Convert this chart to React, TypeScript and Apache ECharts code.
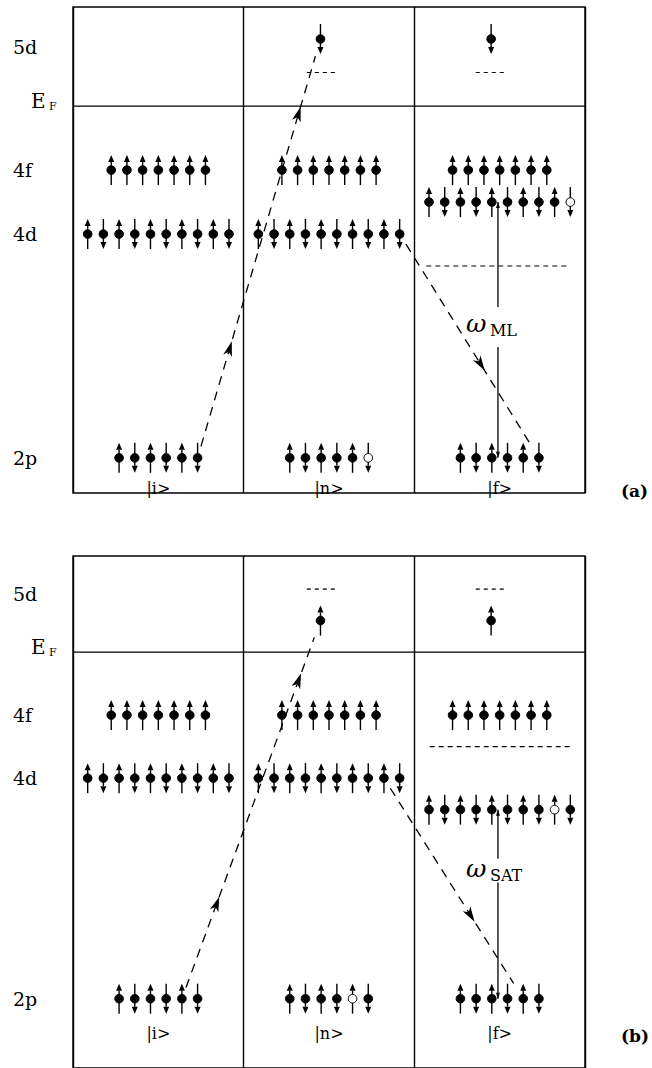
import React, { useEffect, useRef } from "react";
import * as echarts from "echarts";

// ---- diagram content -------------------------------------------------------

const panelTags = ["(a)", "(b)"];
const stateKets = ["|i>", "|n>", "|f>"];

// level names on the left and the energy each label sits at (E_F = 0)
const levelNames = ["5d", "E_F", "4f", "4d", "2p"];
const levelLabelEnergies = [1.85, 0, -2, -4, -11];
const fermiEnergy = 0;

// visible energy window of each panel [min, max]
const panelEnergyRange = [
  [-12.1, 3.1],
  [-13.2, 3.05],
];
const ketEnergies = [-11.95, -12.1];
const tagEnergies = [-12.05, -12.2];

// electron rows: [panel, column, energy, spins (u = up, d = down), hole slot (-1 = none)]
const electronRows: [number, number, number, string, number][] = [
  [0, 0, -2, "uuuuuuu", -1],
  [0, 0, -4, "ududududud", -1],
  [0, 0, -11, "ududud", -1],
  [0, 1, 2.1, "d", -1],
  [0, 1, -2, "uuuuuuu", -1],
  [0, 1, -4, "ududududud", -1],
  [0, 1, -11, "ududud", 5],
  [0, 2, 2.1, "d", -1],
  [0, 2, -2, "uuuuuuu", -1],
  [0, 2, -3, "ududududud", 9],
  [0, 2, -11, "ududud", -1],

  [1, 0, -2, "uuuuuuu", -1],
  [1, 0, -4, "ududududud", -1],
  [1, 0, -11, "ududud", -1],
  [1, 1, 1, "u", -1],
  [1, 1, -2, "uuuuuuu", -1],
  [1, 1, -4, "ududududud", -1],
  [1, 1, -11, "ududud", 4],
  [1, 2, 1, "u", -1],
  [1, 2, -2, "uuuuuuu", -1],
  [1, 2, -5, "ududududud", 8],
  [1, 2, -11, "ududud", -1],
];

// empty (dashed) levels: [panel, column, energy, from, to] (from/to = fraction of the column)
const emptyLevels: [number, number, number, number, number][] = [
  [0, 1, 1.05, 0.37, 0.54],
  [0, 2, 1.05, 0.36, 0.54],
  [0, 2, -5, 0.07, 0.91],
  [1, 1, 2, 0.37, 0.54],
  [1, 2, 2, 0.36, 0.54],
  [1, 2, -3, 0.09, 0.91],
];

// electron hops: [panel, fromColumn, fromEnergy, fromSlot, toColumn, toEnergy, toSlot]
const transitions: [number, number, number, number, number, number, number][] = [
  [0, 0, -11, 5, 1, 2.1, 0],
  [0, 1, -4, 9, 2, -11, 5],
  [1, 0, -11, 4, 1, 1, 0],
  [1, 1, -4, 8, 2, -11, 4],
];
// where along each hop the direction arrowheads sit
const transitionArrowAt = [[0.26, 0.82], [0.58], [0.25, 0.84], [0.62]];

// energy-loss arrows: [panel, x, topEnergy, bottomEnergy, gapTop, gapBottom, labelEnergy]
const lossArrows: [number, number, number, number, number, number, number][] = [
  [0, 2.49, -3, -11, -6.28, -7.53, -6.85],
  [1, 2.49, -5, -11, -6.56, -7.31, -6.92],
];
const lossSubscripts = ["ML", "SAT"];

// ---- layout / style ---------------------------------------------------------

const W = 652;
const H = 1068;
const GRID_LEFT = 73;
const GRID_WIDTH = 512;
const gridTops = [7, 556];
const gridHeights = [486, 520];

const SLOT = 0.092; // spacing between electrons (column units)
const LONE_SHIFT = -0.05; // single 5d electron sits a little left of centre
const STEM = 15;
const HEAD_LEN = 7;
const HEAD_W = 3;
const DOT_R = 4.3;
const TRIM_START = 12;
const TRIM_END = 18;
const SERIF = "'DejaVu Serif', 'Liberation Serif', serif";
const INK = "#000";

function slotX(panel: number, col: number, energy: number, slot: number) {
  const row = electronRows.find((r) => r[0] === panel && r[1] === col && r[2] === energy)!;
  const n = row[3].length;
  if (n === 1) return col + 0.5 + LONE_SHIFT;
  return col + 0.5 + (slot - (n - 1) / 2) * SLOT;
}

function electronData(panel: number) {
  const out: number[][] = [];
  electronRows
    .filter((r) => r[0] === panel)
    .forEach((r) => {
      const [, col, energy, spins, hole] = r;
      for (let i = 0; i < spins.length; i++) {
        out.push([slotX(panel, col, energy, i), energy, spins[i] === "u" ? 1 : -1, i === hole ? 1 : 0]);
      }
    });
  return out;
}

function renderElectron(_params: any, api: any) {
  const [cx, cy] = api.coord([api.value(0), api.value(1)]);
  const s = api.value(2) > 0 ? -1 : 1;
  const hole = api.value(3) > 0;
  const tipY = cy + s * STEM;
  const baseY = tipY - s * HEAD_LEN;
  return {
    type: "group",
    children: [
      {
        type: "line",
        shape: { x1: cx, y1: cy - s * STEM, x2: cx, y2: baseY },
        style: { stroke: INK, lineWidth: 1.4 },
      },
      {
        type: "polygon",
        shape: { points: [[cx, tipY], [cx - HEAD_W, baseY], [cx + HEAD_W, baseY]] },
        style: { fill: INK },
      },
      {
        type: "circle",
        shape: { cx, cy, r: DOT_R },
        style: { fill: hole ? "#fff" : INK, stroke: INK, lineWidth: 1 },
      },
    ],
  };
}

function dart(px: number, py: number, ux: number, uy: number) {
  const nx = -uy;
  const ny = ux;
  return {
    type: "polygon",
    shape: {
      points: [
        [px + ux * 8, py + uy * 8],
        [px - ux * 7 + nx * 4.5, py - uy * 7 + ny * 4.5],
        [px - ux * 3, py - uy * 3],
        [px - ux * 7 - nx * 4.5, py - uy * 7 - ny * 4.5],
      ],
    },
    style: { fill: INK },
  };
}

function buildSeries(panel: number) {
  const axes = { xAxisIndex: panel, yAxisIndex: panel, clip: false, silent: true };

  const hops = transitions
    .map((t, i) => ({ t, arrows: transitionArrowAt[i] }))
    .filter((h) => h.t[0] === panel);
  const losses = lossArrows
    .map((l, i) => ({ l, sub: lossSubscripts[i] }))
    .filter((o) => o.l[0] === panel);

  return [
    // Fermi level and the empty dashed levels
    {
      type: "custom",
      ...axes,
      data: [
        [0, 3, fermiEnergy, 0],
        ...emptyLevels.filter((d) => d[0] === panel).map((d) => [d[1] + d[3], d[1] + d[4], d[2], 1]),
      ],
      renderItem: (_p: any, api: any) => {
        const a = api.coord([api.value(0), api.value(2)]);
        const b = api.coord([api.value(1), api.value(2)]);
        const dashed = api.value(3) > 0;
        const short = b[0] - a[0] < 60;
        return {
          type: "line",
          shape: { x1: a[0], y1: a[1], x2: b[0], y2: b[1] },
          style: {
            stroke: INK,
            lineWidth: dashed ? 1.1 : 1.4,
            lineDash: dashed ? (short ? [4, 4] : [5, 4]) : null,
          },
        };
      },
    },
    // electrons
    {
      type: "custom",
      ...axes,
      data: electronData(panel),
      renderItem: renderElectron,
    },
    // electron hops (dashed, with direction darts)
    {
      type: "custom",
      ...axes,
      data: hops.map(({ t }) => [
        slotX(panel, t[1], t[2], t[3]),
        t[2],
        slotX(panel, t[4], t[5], t[6]),
        t[5],
      ]),
      renderItem: (params: any, api: any) => {
        const a = api.coord([api.value(0), api.value(1)]);
        const b = api.coord([api.value(2), api.value(3)]);
        const dx = b[0] - a[0];
        const dy = b[1] - a[1];
        const len = Math.hypot(dx, dy);
        const ux = dx / len;
        const uy = dy / len;
        const children: any[] = [
          {
            type: "line",
            shape: {
              x1: a[0] + ux * TRIM_START,
              y1: a[1] + uy * TRIM_START,
              x2: b[0] - ux * TRIM_END,
              y2: b[1] - uy * TRIM_END,
            },
            style: { stroke: INK, lineWidth: 1.3, lineDash: [9, 7] },
          },
        ];
        hops[params.dataIndex].arrows.forEach((f) => {
          children.push(dart(a[0] + dx * f, a[1] + dy * f, ux, uy));
        });
        return { type: "group", children };
      },
    },
    // energy-loss arrow with its omega label
    {
      type: "custom",
      ...axes,
      data: losses.map(({ l }) => [l[1], l[2], l[3], l[4], l[5], l[6]]),
      renderItem: (params: any, api: any) => {
        const x = api.value(0);
        const top = api.coord([x, api.value(1)]);
        const bot = api.coord([x, api.value(2)]);
        const g1 = api.coord([x, api.value(3)]);
        const g2 = api.coord([x, api.value(4)]);
        const lab = api.coord([x, api.value(5)]);
        const px = top[0];
        const line = (y1: number, y2: number) => ({
          type: "line",
          shape: { x1: px, y1, x2: px, y2 },
          style: { stroke: INK, lineWidth: 1.3 },
        });
        const head = (y: number, dir: number) => ({
          type: "polygon",
          shape: { points: [[px, y], [px - 2, y - dir * 6], [px + 2, y - dir * 6]] },
          style: { fill: INK },
        });
        return {
          type: "group",
          children: [
            line(top[1], g1[1]),
            line(g2[1], bot[1]),
            head(top[1], -1),
            head(bot[1], 1),
            {
              type: "text",
              x: px - 32,
              y: lab[1] - 2,
              style: {
                text: "ω",
                fontFamily: SERIF,
                fontStyle: "italic",
                fontSize: 25,
                fill: INK,
                align: "left",
                verticalAlign: "middle",
              },
            },
            {
              type: "text",
              x: px - 8,
              y: lab[1] + 5,
              style: {
                text: losses[params.dataIndex].sub,
                fontFamily: SERIF,
                fontSize: 16,
                fill: INK,
                align: "left",
                verticalAlign: "middle",
              },
            },
          ],
        };
      },
    },
    // level names, state kets and the panel tag
    {
      type: "custom",
      ...axes,
      data: [
        ...levelLabelEnergies.map((e, i) => [0, e, 0, i]),
        ...stateKets.map((_, i) => [i + 0.5, ketEnergies[panel], 1, i]),
        [3, tagEnergies[panel], 2, panel],
      ],
      renderItem: (_p: any, api: any) => {
        const kind = api.value(2);
        const idx = api.value(3);
        const [x, y] = api.coord([api.value(0), api.value(1)]);
        if (kind === 0) {
          const name = levelNames[idx];
          if (name === "E_F") {
            return {
              type: "group",
              children: [
                {
                  type: "text",
                  x: x - 42,
                  y: y - 5,
                  style: { text: "E", fontFamily: SERIF, fontSize: 20, fill: INK, align: "left", verticalAlign: "middle" },
                },
                {
                  type: "text",
                  x: x - 24,
                  y: y,
                  style: { text: "F", fontFamily: SERIF, fontSize: 11, fill: INK, align: "left", verticalAlign: "middle" },
                },
              ],
            };
          }
          return {
            type: "text",
            x: x - 60,
            y,
            style: { text: name, fontFamily: SERIF, fontSize: 19, fill: INK, align: "left", verticalAlign: "middle" },
          };
        }
        if (kind === 1) {
          return {
            type: "text",
            x,
            y,
            style: { text: stateKets[idx], fontFamily: SERIF, fontSize: 16, fill: INK, align: "center", verticalAlign: "middle" },
          };
        }
        return {
          type: "text",
          x: x + 36,
          y,
          style: {
            text: panelTags[idx],
            fontFamily: SERIF,
            fontWeight: "bold",
            fontSize: 17,
            fill: INK,
            align: "left",
            verticalAlign: "middle",
          },
        };
      },
    },
  ];
}

function buildOption() {
  const panels = [0, 1];
  return {
    animation: false,
    backgroundColor: "#fff",
    grid: panels.map((p) => ({
      left: GRID_LEFT,
      width: GRID_WIDTH,
      top: gridTops[p],
      height: gridHeights[p],
      show: true,
      borderColor: INK,
      borderWidth: 1.4,
      backgroundColor: "transparent",
    })),
    xAxis: panels.map((p) => ({
      type: "value",
      gridIndex: p,
      min: 0,
      max: 3,
      interval: 1,
      axisLine: { show: false },
      axisTick: { show: false },
      axisLabel: { show: false },
      splitLine: { show: true, lineStyle: { color: INK, width: 1.4 } },
    })),
    yAxis: panels.map((p) => ({
      type: "value",
      gridIndex: p,
      min: panelEnergyRange[p][0],
      max: panelEnergyRange[p][1],
      axisLine: { show: false },
      axisTick: { show: false },
      axisLabel: { show: false },
      splitLine: { show: false },
    })),
    series: panels.flatMap((p) => buildSeries(p)),
  };
}

export default function App() {
  const ref = useRef<HTMLDivElement>(null);
  useEffect(() => {
    if (!ref.current) return;
    const chart = echarts.init(ref.current, null, { renderer: "svg" });
    chart.setOption(buildOption() as any);
    return () => chart.dispose();
  }, []);
  return (
    <div
      ref={ref}
      style={{ position: "fixed", left: 0, top: 0, width: W, height: H, background: "#fff" }}
    />
  );
}
